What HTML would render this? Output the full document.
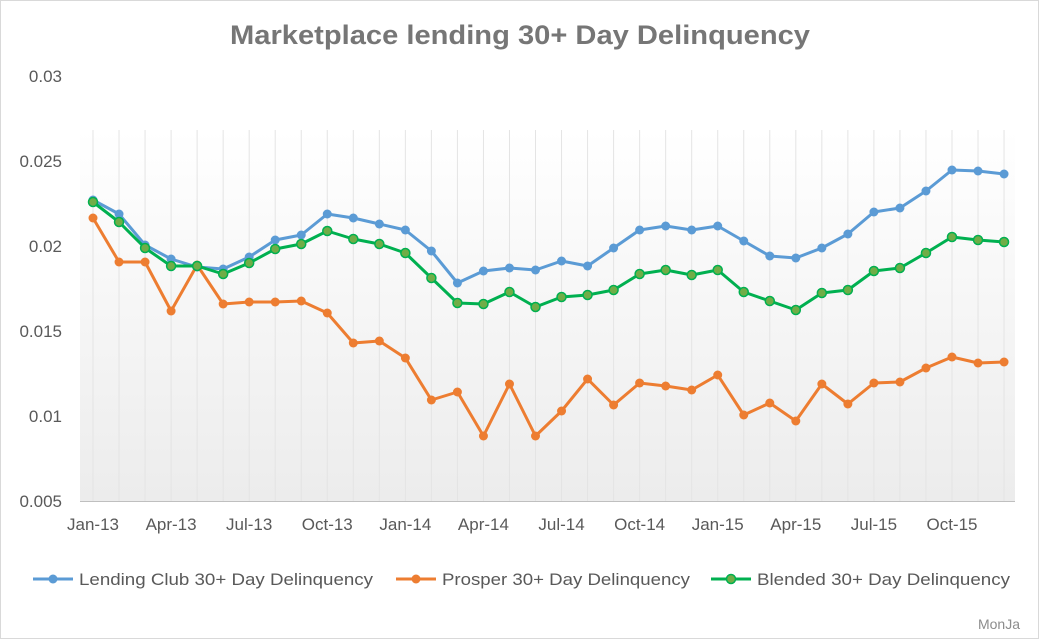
<!DOCTYPE html>
<html><head><meta charset="utf-8"><style>
body{margin:0;background:#fff;}
svg{display:block;font-family:"Liberation Sans",sans-serif;}
</style></head><body>
<svg width="1039" height="639" viewBox="0 0 1039 639">
<defs>
<linearGradient id="bg" x1="0" y1="0" x2="0" y2="1">
<stop offset="0" stop-color="#ffffff"/>
<stop offset="1" stop-color="#ececec"/>
</linearGradient>
</defs>
<rect x="0.5" y="0.5" width="1038" height="638" fill="#fff" stroke="#d9d9d9"/>
<text x="230" y="44" textLength="580" lengthAdjust="spacingAndGlyphs" font-size="27" font-weight="bold" fill="#767676">Marketplace  lending 30+ Day Delinquency</text>
<rect x="80" y="130" width="935" height="371" fill="url(#bg)"/>
<g id="grid" stroke="#e4e4e4" stroke-width="1"></g>
<line x1="80" y1="501.5" x2="1015" y2="501.5" stroke="#bfbfbf"/>
<g font-size="17" fill="#595959" text-anchor="end">
<text x="62" y="82">0.03</text>
<text x="62" y="167">0.025</text>
<text x="62" y="252">0.02</text>
<text x="62" y="337">0.015</text>
<text x="62" y="422">0.01</text>
<text x="62" y="507">0.005</text>
</g>
<g id="xl" font-size="17" fill="#595959" text-anchor="middle"></g>
<g id="series"></g>
<g font-size="17" fill="#595959">
<line x1="33" y1="579" x2="73" y2="579" stroke="#5b9bd5" stroke-width="3"/><circle cx="53" cy="579" r="4.5" fill="#5b9bd5"/>
<text x="79" y="585" textLength="294" lengthAdjust="spacingAndGlyphs">Lending Club 30+ Day Delinquency</text>
<line x1="396" y1="579" x2="436" y2="579" stroke="#ed7d31" stroke-width="3"/><circle cx="416" cy="579" r="4.5" fill="#ed7d31"/>
<text x="442" y="585" textLength="248" lengthAdjust="spacingAndGlyphs">Prosper 30+ Day Delinquency</text>
<line x1="711" y1="579" x2="751" y2="579" stroke="#00b050" stroke-width="3"/><circle cx="731" cy="579" r="4.5" fill="#70ad47" stroke="#00b050" stroke-width="1.5"/>
<text x="757" y="585" textLength="253" lengthAdjust="spacingAndGlyphs">Blended 30+ Day Delinquency</text>
</g>
<text x="1020" y="629" text-anchor="end" font-size="14" fill="#8c8c8c">MonJa</text>
</svg>
<script>
const NS="http://www.w3.org/2000/svg";
const lc=[200,214,245,259,267,269,257,240,235,214,218,224,230,251,283,271,268,270,261,266,248,230,226,230,226,241,256,258,248,234,212,208,191,170,171,174];
const pr=[218,262,262,311,265,304,302,302,301,313,343,341,358,400,392,436,384,436,411,379,405,383,386,390,375,415,403,421,384,404,383,382,368,357,363,362];
const bl=[202,222,248,266,266,274,263,249,244,231,239,244,253,278,303,304,292,307,297,295,290,274,270,275,270,292,301,310,293,290,271,268,253,237,240,242];
const X=i=>93+i*26.03;
const g=document.getElementById('grid');
for(let i=0;i<36;i++){const l=document.createElementNS(NS,'line');l.setAttribute('x1',X(i));l.setAttribute('x2',X(i));l.setAttribute('y1',130);l.setAttribute('y2',501);g.appendChild(l);}
const xl=document.getElementById('xl');
const labs=['Jan-13','Apr-13','Jul-13','Oct-13','Jan-14','Apr-14','Jul-14','Oct-14','Jan-15','Apr-15','Jul-15','Oct-15'];
labs.forEach((t,k)=>{const e=document.createElementNS(NS,'text');e.setAttribute('x',X(k*3));e.setAttribute('y',530);e.textContent=t;xl.appendChild(e);});
const s=document.getElementById('series');
function draw(d,c,fill,str){const p=document.createElementNS(NS,'polyline');p.setAttribute('points',d.map((y,i)=>X(i)+','+y).join(' '));p.setAttribute('fill','none');p.setAttribute('stroke',c);p.setAttribute('stroke-width',3);p.setAttribute('stroke-linejoin','round');s.appendChild(p);
d.forEach((y,i)=>{const ci=document.createElementNS(NS,'circle');ci.setAttribute('cx',X(i));ci.setAttribute('cy',y);ci.setAttribute('r',4.5);ci.setAttribute('fill',fill);if(str){ci.setAttribute('stroke',str);ci.setAttribute('stroke-width',1.5);}s.appendChild(ci);});}
draw(lc,'#5b9bd5','#5b9bd5');
draw(pr,'#ed7d31','#ed7d31');
draw(bl,'#00b050','#70ad47','#00b050');
</script>
</body></html>
